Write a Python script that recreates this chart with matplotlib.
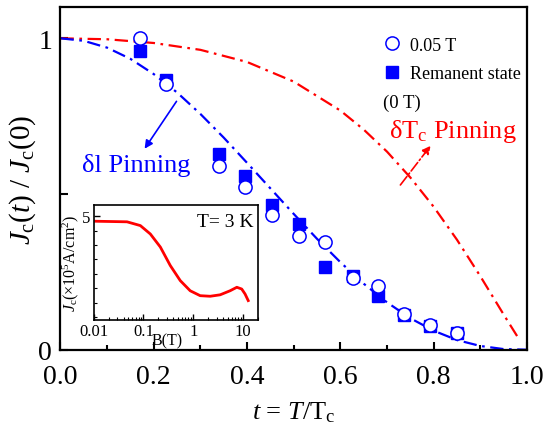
import matplotlib
matplotlib.use("Agg")
import matplotlib.pyplot as plt
from matplotlib.lines import Line2D
from matplotlib.ticker import FixedLocator, FixedFormatter, NullFormatter, LogLocator

plt.rcParams['font.family'] = ['Liberation Serif', 'DejaVu Serif']
plt.rcParams['mathtext.fontset'] = 'custom'
plt.rcParams['mathtext.rm'] = 'Liberation Serif'
plt.rcParams['mathtext.it'] = 'Liberation Serif:italic'

# ---- data ----
t_field = [0.171, 0.226, 0.340, 0.396, 0.454, 0.512, 0.568, 0.626, 0.681, 0.737, 0.793, 0.851]
jc_field = [1.000, 0.853, 0.590, 0.522, 0.433, 0.365, 0.346, 0.230, 0.205, 0.114, 0.079, 0.054]
t_rem = [0.171, 0.226, 0.340, 0.396, 0.454, 0.512, 0.568, 0.626, 0.681, 0.737, 0.793, 0.851]
jc_rem = [0.959, 0.866, 0.628, 0.558, 0.465, 0.404, 0.266, 0.237, 0.172, 0.111, 0.076, 0.054]

t_curve_l = [0.00, 0.05, 0.10, 0.15, 0.20, 0.25, 0.30, 0.35, 0.40, 0.45, 0.50, 0.55,
             0.60, 0.65, 0.70, 0.75, 0.80, 0.85, 0.90, 0.95, 1.00]
jc_curve_l = [1.000, 0.992, 0.970, 0.934, 0.885, 0.826, 0.757, 0.681, 0.600, 0.518, 0.436, 0.356,
              0.281, 0.212, 0.152, 0.101, 0.061, 0.031, 0.012, 0.002, 0.000]
t_curve_tc = [0.00, 0.10, 0.20, 0.30, 0.40, 0.50, 0.60, 0.65, 0.70, 0.75, 0.80, 0.85, 0.90, 0.95, 0.98]
jc_curve_tc = [1.000, 0.997, 0.985, 0.963, 0.924, 0.861, 0.768, 0.707, 0.636, 0.553, 0.459, 0.353,
               0.236, 0.113, 0.041]

b_inset = [0.011, 0.047, 0.087, 0.138, 0.219, 0.347, 0.55, 0.87, 1.38, 2.19, 3.47, 5.5, 7.5, 9.4, 10.96, 12.7]
jc_inset = [4.82, 4.80, 4.67, 4.38, 3.93, 3.29, 2.77, 2.42, 2.25, 2.23, 2.28, 2.42, 2.54, 2.48, 2.31, 2.08]

xtick_vals = [0.0, 0.2, 0.4, 0.6, 0.8, 1.0]
xtick_labels = ['0.0', '0.2', '0.4', '0.6', '0.8', '1.0']
ytick_vals = [0.0, 0.5, 1.0]
ytick_labels = ['0', '', '1']
inset_xticks = [0.01, 0.1, 1, 10]
inset_xlabels = ['0.01', '0.1', '1', '10']

BLUE = '#0000ff'
RED = '#ff0000'

fig = plt.figure(figsize=(5.54, 4.31), dpi=100)
ax = fig.add_axes([0.1092, 0.1863, 0.842, 0.7947])

ax.plot(t_curve_tc, jc_curve_tc, color=RED, lw=1.6, ls=(0, (6, 2.5, 1.2, 2.5)), zorder=2)
ax.plot(t_curve_l, jc_curve_l, color=BLUE, lw=1.6, ls=(0, (6, 2.5, 1.2, 2.5)), zorder=2)
ax.plot(t_rem, jc_rem, ls='none', marker='s', ms=8.5, mfc=BLUE, mec=BLUE, zorder=3)
ax.plot(t_field, jc_field, ls='none', marker='o', ms=9.5, mfc='white', mec=BLUE, mew=1.1, zorder=4)

ax.set_xlim(0, 1.0)
ax.set_ylim(0, 1.1)
ax.xaxis.set_major_locator(FixedLocator(xtick_vals))
ax.xaxis.set_major_formatter(FixedFormatter(xtick_labels))
ax.xaxis.set_minor_locator(FixedLocator([0.1, 0.3, 0.5, 0.7, 0.9]))
ax.yaxis.set_major_locator(FixedLocator(ytick_vals))
ax.yaxis.set_major_formatter(FixedFormatter(ytick_labels))
ax.tick_params(which='major', direction='in', length=6, width=1.5, labelsize=20, pad=6)
ax.tick_params(axis='x', which='major', pad=10)
ax.tick_params(which='minor', direction='in', length=3.5, width=1.5)
for s in ax.spines.values():
    s.set_linewidth(1.6)

ax.set_xlabel(r'$t$ = $T$/T$_{\rm c}$', fontsize=19, labelpad=8)
ax.set_ylabel(r'$J_{\rm c}(t)$ / $J_{\rm c}(0)$', fontsize=21, labelpad=0)

handles = [Line2D([], [], ls='none', marker='o', ms=9.5, mfc='white', mec=BLUE, mew=1.1),
           Line2D([], [], ls='none', marker='s', ms=8.5, mfc=BLUE, mec=BLUE)]
ax.legend(handles, ['0.05 T', 'Remanent state'], loc='upper left', bbox_to_anchor=(0.675, 0.935),
          frameon=False, fontsize=13, handlelength=1.0, handletextpad=0.5, labelspacing=0.65,
          borderaxespad=0)
ax.text(0.692, 0.795, '(0 T)', fontsize=13.5, ha='left', va='center')

ax.text(0.162, 0.596, 'δl Pinning', color=BLUE, fontsize=19, ha='center', va='center')
ax.text(0.842, 0.705, r'δT$_{\rm c}$ Pinning', color=RED, fontsize=19, ha='center', va='center')
ax.annotate('', xy=(0.177, 0.638), xytext=(0.252, 0.805),
            arrowprops=dict(arrowstyle='-|>', color=BLUE, lw=1.2, mutation_scale=12))
ax.annotate('', xy=(0.797, 0.662), xytext=(0.725, 0.522),
            arrowprops=dict(arrowstyle='-|>', color=RED, lw=1.2, ls='-.', mutation_scale=12))

# ---- inset ----
ins = fig.add_axes([0.1688, 0.2552, 0.297, 0.2668])
ins.plot(b_inset, jc_inset, color=RED, lw=2.0)
ins.set_xscale('log')
ins.set_xlim(0.01, 20)
ins.set_ylim(1.41, 5.38)
ins.xaxis.set_major_locator(FixedLocator(inset_xticks))
ins.xaxis.set_major_formatter(FixedFormatter(inset_xlabels))
ins.xaxis.set_minor_locator(LogLocator(base=10, subs=range(2, 10)))
ins.xaxis.set_minor_formatter(NullFormatter())
ins.yaxis.set_major_locator(FixedLocator([5]))
ins.yaxis.set_major_formatter(FixedFormatter(['5']))
ins.yaxis.set_minor_locator(FixedLocator([1.5, 2.0, 2.5, 3.0, 3.5, 4.0, 4.5]))
ins.tick_params(which='major', direction='in', length=4, width=1, labelsize=12, pad=2)
ins.tick_params(which='minor', direction='in', length=2, width=0.8)
for s in ins.spines.values():
    s.set_linewidth(1.2)
ins.set_ylabel(r'$J_{\rm c}$(×10$^5$A/cm$^2$)', fontsize=11.5, labelpad=1)
ins.text(0.97, 0.86, 'T= 3 K', transform=ins.transAxes, fontsize=14, ha='right', va='center')
ins.text(0.45, -0.11, 'B(T)', transform=ins.transAxes, fontsize=11.5, ha='center', va='top')

fig.savefig('out.png', dpi=100)
